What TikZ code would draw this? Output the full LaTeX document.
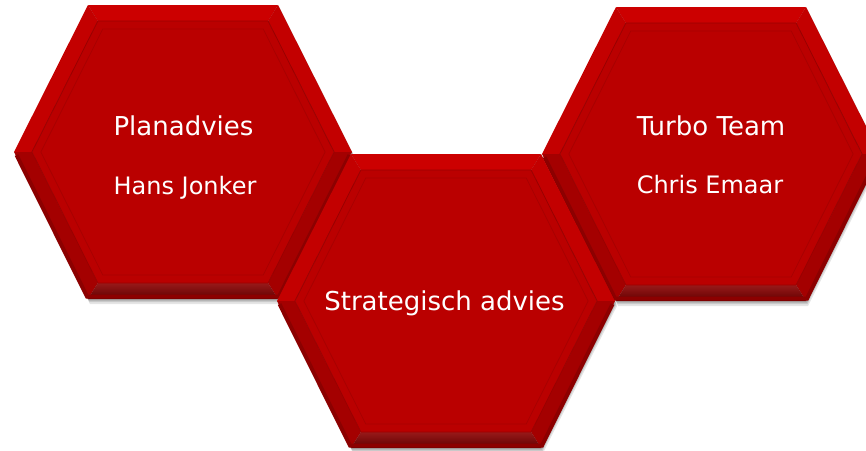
\documentclass[tikz,border=0pt]{standalone}
\usepackage{fontspec}
\setmainfont{DejaVu Sans}
\definecolor{bevtop}{HTML}{CC0000}
\definecolor{bevup}{HTML}{C30000}
\definecolor{bevlow}{HTML}{A40000}
\definecolor{bevbot}{HTML}{8C0000}
\definecolor{face}{HTML}{BA0000}
\definecolor{rim}{HTML}{990000}
\definecolor{rim2}{HTML}{A80000}
\tikzset{
  titletext/.style={anchor=base,text=white,inner sep=0pt,font=\fontsize{26}{30}\selectfont},
  subtext/.style={anchor=base,text=white,inner sep=0pt,font=\fontsize{24}{28}\selectfont},
}
\newcommand{\hexpath}[3]{(-#3,-#1) -- (#3,-#1) -- (#2,0) -- (#3,#1) -- (-#3,#1) -- (-#2,0) -- cycle}
\newcommand{\drawhex}[2]{%
  \begin{scope}[shift={(#1,#2)}]
    % shadow
    \fill[black,opacity=0.10] [shift={(2,5)}] \hexpath{147}{169}{95};
    \fill[black,opacity=0.12] [shift={(1.5,3)}] \hexpath{147}{169}{95};
    \fill[black,opacity=0.15] [shift={(1,1.5)}] \hexpath{147}{169}{95};
    % bevel bands
    \fill[bevtop] (-95,-147) -- (95,-147) -- (85.14,-131) -- (-85.14,-131) -- cycle;
    \fill[bevup] (95,-147) -- (169,0) -- (151.09,0) -- (85.14,-131) -- cycle;
    \fill[bevup] (-169,0) -- (-95,-147) -- (-85.14,-131) -- (-151.09,0) -- cycle;
    \fill[bevlow] (169,0) -- (95,147) -- (85.14,131) -- (151.09,0) -- cycle;
    \fill[bevlow] (-95,147) -- (-169,0) -- (-151.09,0) -- (-85.14,131) -- cycle;
    \shade[top color=bevbot!90!white,bottom color=bevbot!70!black] (95,147) -- (-95,147) -- (-85.14,131) -- (85.14,131) -- cycle;
    % darker outer stripe on lower edges
    \draw[bevbot,line width=4pt] (166.5,3) -- (96,144.5) -- (-96,144.5) -- (-166.5,3);
    % face
    \fill[face] \hexpath{131}{151.09}{85.14};
    \draw[rim,line width=0.8pt] \hexpath{131}{151.09}{85.14};
    \draw[rim2,line width=0.8pt] \hexpath{123}{142.13}{80.21};
  \end{scope}}
\begin{document}
\begin{tikzpicture}[x=1pt,y=-1pt]
  \useasboundingbox (0,0) rectangle (866,450);
  \begin{scope}
    \clip (0,0) rectangle (866,450);
    \drawhex{183}{152}
    \drawhex{711}{154}
    \drawhex{446}{301}
  \end{scope}
  \node[titletext] (plan) at (183.5,135) {Planadvies};
  \node[subtext] (hans) at (185,194) {Hans Jonker};
  \node[titletext] (strat) at (444.5,310) {Strategisch advies};
  \node[titletext] (turbo) at (711,135) {Turbo Team};
  \node[subtext] (chris) at (710,193) {Chris Emaar};
\end{tikzpicture}
\end{document}
